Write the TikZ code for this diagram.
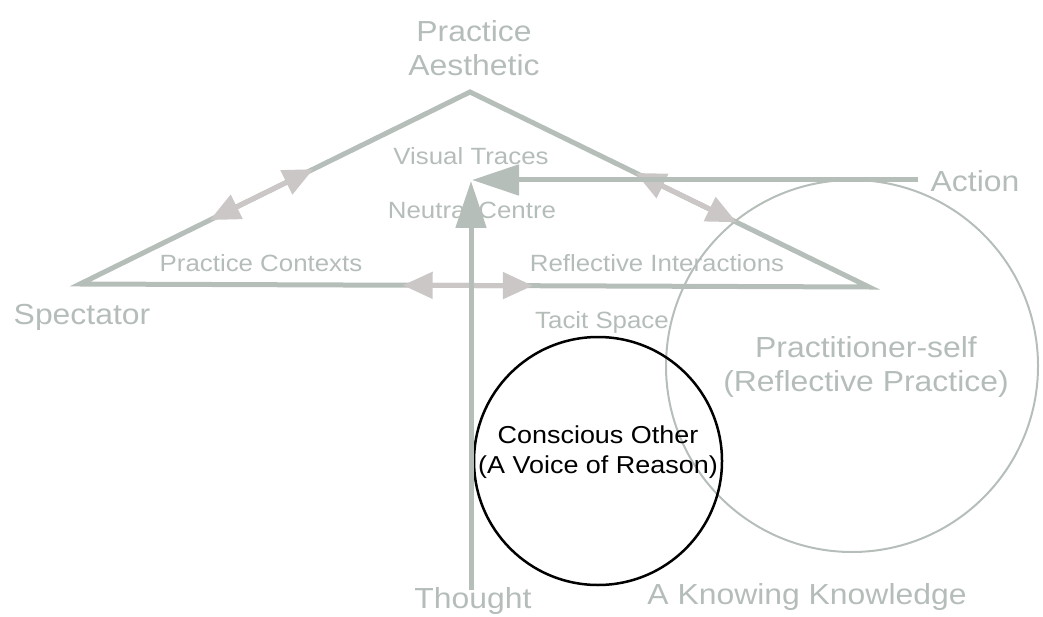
\documentclass[tikz,border=0pt]{standalone}
\usepackage{fontspec}
\setmainfont[FakeStretch=1.1]{Liberation Sans}
\usetikzlibrary{arrows.meta,calc}
\definecolor{lineg}{HTML}{B6BEB9}
\definecolor{textg}{HTML}{B5BDB9}
\definecolor{headp}{HTML}{CCC7C7}
\tikzset{
  mainline/.style={draw=lineg, line width=5pt, line join=miter},
  dblarrow/.style={draw=headp, line width=5pt, {Triangle[length=30pt,width=26pt,fill=headp]}-{Triangle[length=30pt,width=26pt,fill=headp]}},
  bigarrow/.style={draw=lineg, line width=5pt, -{Triangle[length=47pt,width=30pt,fill=lineg]}},
  bigtxt/.style={text=textg, font=\fontsize{29}{34}\selectfont, align=center, inner sep=0pt},
  smalltxt/.style={text=textg, font=\fontsize{23.5}{28}\selectfont, align=center, inner sep=0pt},
  blacktxt/.style={text=black, font=\fontsize{24.5}{30}\selectfont, align=center, inner sep=0pt},
}
\begin{document}
\begin{tikzpicture}[x=1pt,y=-1pt]
\useasboundingbox (0,0) rectangle (1043,617);
% circles
\node[circle, draw=lineg, line width=2pt, minimum size=372pt, inner sep=0pt] (PC) at (852,366) {};
\node[circle, draw=black, line width=2.5pt, minimum size=248pt, inner sep=0pt] (CC) at (598,461) {};
% triangle corners
\coordinate (A) at (470,92);
\coordinate (L) at (80,284);
\coordinate (R) at (869,287);
\coordinate (Ctr) at (471,181);
\coordinate (Tend) at (471,590);
\coordinate (Aend) at (918,180);
% texts
\node[bigtxt] (pa) at (474,48) {Practice\\Aesthetic};
\node[smalltxt] (vt) at (471,156) {Visual Traces};
\node[smalltxt] (nc) at (472,210) {Neutral Centre};
\node[bigtxt] (act) at (975,181) {Action};
\node[smalltxt] (pcx) at (261,263) {Practice Contexts};
\node[smalltxt] (ri) at (657,263) {Reflective Interactions};
\node[bigtxt] (spec) at (82,317) {Spectator};
\node[smalltxt] (ts) at (602,322) {Tacit Space};
\node[bigtxt] (ps) at (866,367) {Practitioner-self\\(Reflective Practice)};
\node[blacktxt] (co) at (598,452) {Conscious Other\\(A Voice of Reason)};
\node[bigtxt] (th) at (473,601) {Thought};
\node[bigtxt] (kk) at (807,597) {A Knowing Knowledge};
% triangle
\draw[mainline] (A) -- (R) -- (L) -- cycle;
% double arrows
\draw[dblarrow] ($(L)!0.333!(A)$) -- ($(L)!0.598!(A)$);
\draw[dblarrow] ($(A)!0.415!(R)$) -- ($(A)!0.668!(R)$);
\draw[dblarrow] ($(L)!0.409!(R)$) -- ($(L)!0.574!(R)$);
% main arrows
\draw[bigarrow] (Tend) -- (Ctr);
\draw[bigarrow] (Aend) -- ($(Ctr)+(1,-1)$);
\end{tikzpicture}
\end{document}
